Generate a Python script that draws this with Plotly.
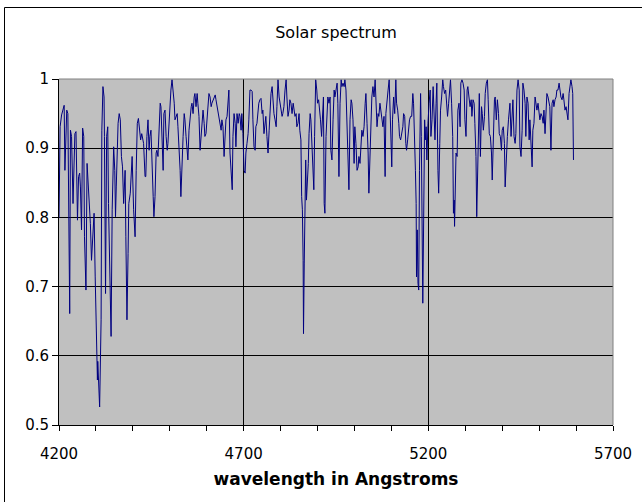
import plotly.graph_objects as go

# ---- data ----
wavelength = [
    4200, 4203, 4207, 4212, 4214, 4216, 4219, 4221, 4224, 4229, 4231, 4234, 4238, 4240, 4243, 4246,
    4249, 4250, 4253, 4256, 4258, 4261, 4264, 4267, 4269, 4273, 4276, 4278, 4282, 4285, 4288, 4292,
    4295, 4298, 4301, 4304, 4305, 4307, 4310, 4314, 4316, 4319, 4322, 4323, 4326, 4329, 4332, 4334,
    4338, 4341, 4344, 4348, 4351, 4353, 4355, 4358, 4360, 4363, 4366, 4369, 4372, 4375, 4379, 4381,
    4384, 4387, 4389, 4393, 4396, 4398, 4402, 4406, 4409, 4412, 4415, 4418, 4421, 4424, 4426, 4429,
    4433, 4435, 4438, 4441, 4444, 4446,
    4449, 4452, 4455, 4457, 4460, 4463, 4465, 4468, 4471, 4474, 4476, 4479, 4482, 4484, 4487, 4490,
    4493, 4495, 4498, 4501, 4503, 4506, 4509, 4512, 4514, 4517, 4520, 4522, 4525, 4528, 4530, 4533,
    4536, 4539, 4541, 4544, 4547, 4549, 4552, 4555, 4558, 4560, 4563, 4566, 4568, 4571, 4574, 4576,
    4579, 4582, 4585, 4587, 4590, 4593, 4595, 4598, 4601, 4604, 4606, 4609, 4612, 4614, 4617, 4620,
    4623, 4625, 4628, 4631, 4633, 4636, 4639, 4641, 4644, 4647, 4650, 4652, 4655, 4658, 4660, 4663,
    4666, 4669, 4671, 4674, 4677, 4679, 4682, 4685, 4688, 4690,
    4693, 4695, 4698, 4701, 4704, 4706, 4709, 4712, 4714, 4717, 4720, 4723, 4725, 4728, 4731, 4733,
    4736, 4739, 4741, 4744, 4747, 4750, 4752, 4755, 4758, 4760, 4763, 4766, 4769, 4771, 4774, 4777,
    4779, 4782, 4785, 4788, 4790, 4793, 4796, 4798, 4801, 4804, 4806, 4809, 4812, 4815, 4817, 4820,
    4823, 4825, 4828, 4831, 4834, 4836, 4839, 4842, 4844, 4847, 4850, 4852, 4855, 4857, 4859, 4861,
    4862, 4864, 4866, 4868, 4870, 4871, 4873, 4875, 4877, 4880, 4882, 4885, 4888, 4890, 4892, 4895,
    4898, 4900, 4903, 4906, 4908, 4911, 4913, 4916, 4918, 4920, 4923, 4926, 4928, 4931, 4934,
    4936, 4939, 4942, 4945, 4947, 4950, 4953, 4955, 4958, 4961, 4964, 4966, 4969, 4972, 4974, 4977,
    4980, 4982, 4985, 4988, 4991, 4993, 4996, 4999, 5001, 5004, 5007, 5010, 5012, 5015, 5018, 5020,
    5023, 5026, 5029, 5031, 5034, 5037, 5039, 5042, 5045, 5047, 5050, 5053, 5056, 5058, 5061, 5064,
    5066, 5069, 5072, 5075, 5077, 5080, 5083, 5085, 5088, 5091, 5094, 5096, 5099, 5101, 5103, 5106,
    5109, 5112, 5114, 5117, 5120, 5122, 5125, 5128, 5131, 5133, 5136, 5139, 5141, 5144, 5147, 5149,
    5152, 5155, 5158, 5160,
    5165, 5167, 5168, 5170, 5172, 5174, 5176, 5177, 5179, 5181, 5183, 5185, 5186, 5188, 5190, 5192,
    5194, 5196, 5197, 5199, 5202, 5205, 5207, 5210, 5213, 5215, 5218, 5221, 5223, 5226, 5228, 5231,
    5233, 5236, 5239, 5241, 5244, 5247, 5250, 5252, 5255, 5258, 5260, 5263, 5266, 5268, 5270, 5271,
    5273, 5275, 5278, 5280, 5283, 5286, 5288, 5291, 5294, 5297, 5299, 5302, 5305, 5307, 5310, 5313,
    5316, 5318, 5321, 5324, 5326, 5329, 5331, 5333, 5335, 5338, 5341, 5344, 5346, 5349, 5352, 5354,
    5357, 5360, 5362, 5365, 5368, 5371, 5373, 5376, 5379, 5381, 5384, 5387, 5390, 5392, 5395, 5398,
    5400, 5403, 5406, 5408, 5411, 5414, 5417, 5419, 5421,
    5424, 5427, 5429, 5432, 5435, 5437, 5440, 5443, 5446, 5448, 5451, 5454, 5456, 5459, 5462, 5464,
    5467, 5470, 5473, 5475, 5478, 5481, 5483, 5486, 5489, 5492, 5494, 5497, 5500, 5502, 5505, 5508,
    5511, 5513, 5516, 5519, 5521, 5524, 5527, 5529, 5532, 5535, 5538, 5540, 5543, 5546, 5548, 5551,
    5554, 5556, 5559, 5562, 5565, 5567, 5570, 5573, 5575, 5578, 5581, 5584, 5586, 5589, 5591, 5593,
]

intensity = [
    0.799, 0.931, 0.948, 0.960, 0.962, 0.868, 0.950, 0.955, 0.950, 0.661, 0.926, 0.917, 0.820, 0.868, 0.921, 0.924,
    0.844, 0.796, 0.859, 0.864, 0.844, 0.782, 0.929, 0.917, 0.772, 0.695, 0.878, 0.859, 0.830, 0.791, 0.738, 0.787,
    0.806, 0.714, 0.613, 0.565, 0.592, 0.563, 0.526, 0.652, 0.926, 0.989, 0.974, 0.917, 0.690, 0.917, 0.931, 0.820,
    0.700, 0.628, 0.811, 0.902, 0.868, 0.801, 0.844, 0.907, 0.936, 0.950, 0.941, 0.888, 0.873, 0.820, 0.868, 0.772,
    0.652, 0.748, 0.820, 0.835, 0.868, 0.888, 0.811, 0.772, 0.868, 0.936, 0.943, 0.926, 0.912, 0.921, 0.917, 0.907,
    0.859, 0.859, 0.917, 0.941, 0.897, 0.917,
    0.926, 0.854, 0.830, 0.801, 0.830, 0.893, 0.897, 0.888, 0.917, 0.965, 0.960, 0.917, 0.868, 0.950, 0.955, 0.917,
    0.897, 0.907, 0.941, 0.955, 0.984, 0.999, 0.984, 0.965, 0.941, 0.946, 0.950, 0.931, 0.902, 0.868, 0.830, 0.883,
    0.917, 0.950, 0.941, 0.917, 0.897, 0.883, 0.926, 0.946, 0.960, 0.965, 0.950, 0.974, 0.979, 0.960, 0.979, 0.965,
    0.946, 0.897, 0.917, 0.936, 0.955, 0.936, 0.917, 0.921, 0.941, 0.955, 0.979, 0.974, 0.960, 0.965, 0.970, 0.974,
    0.977, 0.970, 0.960, 0.955, 0.950, 0.936, 0.926, 0.941, 0.931, 0.888, 0.917, 0.941, 0.946, 0.974, 0.984, 0.893,
    0.868, 0.840, 0.917, 0.950, 0.936, 0.902, 0.950, 0.936, 0.950, 0.946,
    0.926, 0.950, 0.921, 0.868, 0.864, 0.893, 0.907, 0.921, 0.941, 0.984, 0.984, 0.982, 0.941, 0.902, 0.897, 0.931,
    0.936, 0.955, 0.965, 0.970, 0.972, 0.950, 0.955, 0.921, 0.946, 0.946, 0.917, 0.893, 0.926, 0.950, 0.979, 0.989,
    0.965, 0.950, 0.941, 0.931, 0.960, 0.999, 0.974, 0.965, 0.955, 0.946, 0.950, 0.960, 0.984, 0.999, 0.974, 0.946,
    0.955, 0.970, 0.965, 0.950, 0.965, 0.955, 0.946, 0.950, 0.931, 0.936, 0.950, 0.926, 0.912, 0.830, 0.811, 0.738,
    0.632, 0.734, 0.844, 0.883, 0.825, 0.835, 0.844, 0.878, 0.921, 0.950, 0.941, 0.907, 0.868, 0.840, 0.917, 0.999,
    0.984, 0.965, 0.970, 0.955, 0.941, 0.917, 0.955, 0.974, 0.820, 0.806, 0.917, 0.970, 0.974, 0.965, 0.974,
    0.897, 0.883, 0.941, 0.984, 0.974, 0.989, 0.994, 0.965, 0.859, 0.965, 0.999, 0.989, 0.994, 0.989, 0.999, 0.984,
    0.917, 0.868, 0.840, 0.941, 0.970, 0.965, 0.941, 0.878, 0.931, 0.907, 0.868, 0.873, 0.888, 0.878, 0.917, 0.926,
    0.917, 0.931, 0.965, 0.979, 0.936, 0.893, 0.835, 0.878, 0.950, 0.974, 0.989, 0.974, 0.999, 0.965, 0.931, 0.950,
    0.946, 0.965, 0.950, 0.936, 0.931, 0.946, 0.859, 0.950, 0.974, 0.984, 0.999, 0.970, 0.921, 0.873, 0.941, 0.974,
    0.950, 0.999, 0.965, 0.955, 0.936, 0.917, 0.912, 0.921, 0.931, 0.950, 0.946, 0.907, 0.897, 0.912, 0.936, 0.941,
    0.946, 0.946, 0.979, 0.965,
    0.868, 0.820, 0.714, 0.782, 0.705, 0.695, 0.868, 0.974, 0.979, 0.917, 0.748, 0.676, 0.724, 0.893, 0.941, 0.912,
    0.931, 0.883, 0.917, 0.936, 0.965, 0.984, 0.917, 0.941, 0.989, 0.941, 0.912, 0.965, 0.994, 0.868, 0.835, 0.907,
    0.955, 0.974, 0.999, 0.989, 0.979, 0.984, 0.950, 0.946, 0.965, 0.984, 0.999, 0.965, 0.917, 0.806, 0.825, 0.787,
    0.854, 0.893, 0.888, 0.955, 0.965, 0.931, 0.994, 0.999, 0.994, 0.984, 0.941, 0.917, 0.984, 0.989, 0.974, 0.960,
    0.970, 0.946, 0.970, 0.965, 0.936, 0.888, 0.801, 0.868, 0.941, 0.979, 0.888, 0.960, 0.950, 0.926, 0.946, 0.979,
    0.994, 0.999, 0.970, 0.921, 0.917, 0.893, 0.854, 0.917, 0.970, 0.974, 0.941, 0.970, 0.950, 0.921, 0.917, 0.897,
    0.926, 0.931, 0.907, 0.844, 0.897, 0.917, 0.941, 0.955, 0.965,
    0.917, 0.955, 0.970, 0.917, 0.907, 0.921, 0.984, 0.999, 0.984, 0.902, 0.888, 0.926, 0.994, 0.984, 0.965, 0.917,
    0.974, 0.965, 0.912, 0.941, 0.897, 0.873, 0.926, 0.936, 0.974, 0.960, 0.955, 0.965, 0.950, 0.941, 0.950, 0.946,
    0.936, 0.955, 0.921, 0.965, 0.979, 0.974, 0.965, 0.960, 0.897, 0.965, 0.970, 0.960, 0.970, 0.974, 0.984, 0.984,
    0.994, 0.984, 0.974, 0.970, 0.979, 0.970, 0.955, 0.960, 0.950, 0.941, 0.979, 0.989, 0.999, 0.989, 0.979, 0.883,
]

x_tick_vals = [4200, 4700, 5200, 5700]
x_minor_vals = [4300, 4400, 4500, 4600, 4800, 4900, 5000, 5100, 5300, 5400, 5500, 5600]
y_tick_vals = [0.5, 0.6, 0.7, 0.8, 0.9, 1.0]
y_tick_text = ["0.5", "0.6", "0.7", "0.8", "0.9", "1"]

FONT = "DejaVu Sans"

fig = go.Figure()
fig.add_trace(go.Scatter(
    x=wavelength, y=intensity, mode="lines",
    line=dict(color="#000080", width=1),
    showlegend=False, hoverinfo="skip",
))

fig.update_layout(
    width=642, height=502,
    margin=dict(l=59, r=29, t=79, b=77, pad=0),
    paper_bgcolor="white",
    plot_bgcolor="#C0C0C0",
    font=dict(family=FONT, size=15, color="black"),
    title=dict(text="Solar spectrum", x=0.5, xref="paper", xanchor="center",
               y=1 - 32 / 502, yref="container", yanchor="middle",
               font=dict(family=FONT, size=16, color="black")),
    showlegend=False,
)

fig.update_xaxes(
    range=[4200, 5700], tickvals=x_tick_vals, ticktext=[str(v) for v in x_tick_vals],
    showgrid=True, gridcolor="black", gridwidth=1,
    showline=True, linecolor="black", linewidth=1, zeroline=False,
    ticks="outside", ticklen=5, tickcolor="black", tickwidth=1,
    ticklabelstandoff=10,
    minor=dict(tickvals=x_minor_vals, ticks="outside", ticklen=5, tickcolor="black", showgrid=False),
    tickfont=dict(family=FONT, size=15, color="black"),
    automargin=False,
    title=dict(text="<b>wavelength in Angstroms</b>", standoff=11,
               font=dict(family=FONT, size=17, color="black")),
)
fig.update_yaxes(
    range=[0.5, 1.0], tickvals=y_tick_vals, ticktext=y_tick_text,
    showgrid=True, gridcolor="black", gridwidth=1,
    showline=True, linecolor="black", linewidth=1, zeroline=False,
    ticks="outside", ticklen=6, tickcolor="black", tickwidth=1,
    automargin=False,
    tickfont=dict(family=FONT, size=15, color="black"),
)

# plot-area border (top and right) in grey
fig.add_shape(type="line", xref="paper", yref="paper", x0=0, x1=1, y0=1, y1=1,
              line=dict(color="#808080", width=1), layer="above")
fig.add_shape(type="line", xref="paper", yref="paper", x0=1, x1=1, y0=0, y1=1,
              line=dict(color="#808080", width=1), layer="above")
# outer chart frame
fig.add_shape(type="rect", xref="paper", yref="paper",
              x0=(4.5 - 59) / 554, x1=(650 - 59) / 554,
              y0=(425 - 510) / 346, y1=(425 - 7.5) / 346,
              line=dict(color="black", width=1), fillcolor="rgba(0,0,0,0)", layer="below")

fig.write_html(
    "out.html",
    config={"displayModeBar": False},
    post_script="document.body.style.margin='0';document.body.style.overflow='hidden';",
)
